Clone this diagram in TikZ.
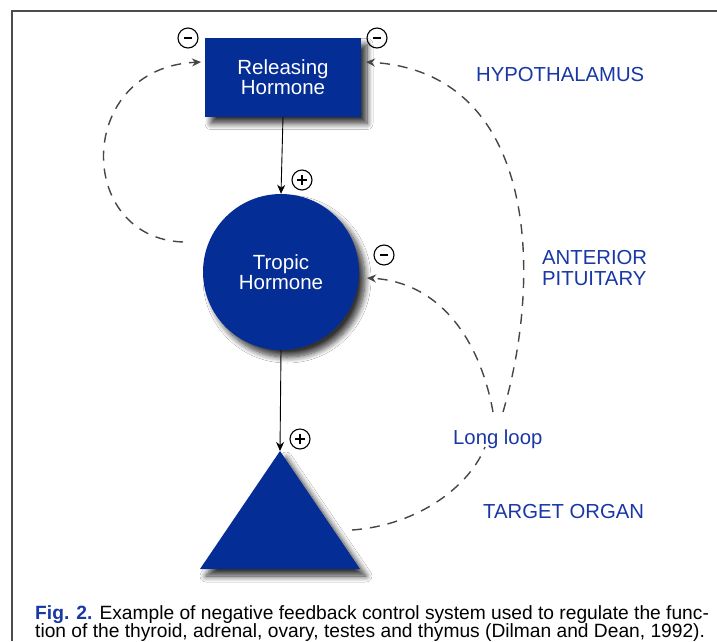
\documentclass[tikz,border=0pt]{standalone}
\usepackage{fontspec}
\setmainfont{Liberation Sans}
\usetikzlibrary{shadows.blur,arrows.meta}
\definecolor{dblue}{RGB}{5,45,150}
\definecolor{lblue}{RGB}{25,55,165}
\definecolor{dashgray}{RGB}{70,70,70}
\tikzset{
  shadowed/.style={blur shadow={shadow xshift=6pt,shadow yshift=-7pt,shadow blur steps=10,shadow blur radius=6pt,shadow opacity=80}},
  shapefill/.style={fill=dblue,draw=none,shadowed},
  lbl/.style={text=lblue,font=\fontsize{20.3}{21}\selectfont,align=left,inner sep=0},
  intext/.style={text=white,font=\fontsize{20.5}{20}\selectfont,align=center},
  fb/.style={dashgray,line width=1.4pt,dash pattern=on 10pt off 8pt,-{Stealth[length=9pt,width=8pt]}},
  fbplain/.style={dashgray,line width=1.4pt,dash pattern=on 10pt off 8pt},
  solidarrow/.style={black,line width=0.9pt,-{Stealth[length=9pt,width=8pt]}},
  sgn/.style={circle,draw=black,line width=1.1pt,minimum size=20pt,inner sep=0},
  msign/.style={sgn,path picture={\draw[line width=1.3pt] ([xshift=-4pt]path picture bounding box.center) -- ([xshift=4pt]path picture bounding box.center);}},
  psign/.style={sgn,path picture={\draw[line width=1.3pt] ([xshift=-5pt]path picture bounding box.center) -- ([xshift=5pt]path picture bounding box.center) ([yshift=-5pt]path picture bounding box.center) -- ([yshift=5pt]path picture bounding box.center);}},
  captext/.style={anchor=base west,inner sep=0,font=\fontsize{19.2}{18.5}\selectfont}
}
\begin{document}
\begin{tikzpicture}[x=1pt,y=-1pt]
\useasboundingbox (0,0) rectangle (717,641);
\fill[white] (0,0) rectangle (717,641);
% frame
\draw[gray!60!black,line width=2pt] (12,641) -- (12,11) -- (717,11);

% shapes
\node[shapefill,rectangle,minimum width=156pt,minimum height=79pt,intext] (rh) at (283,77) {Releasing\\Hormone};
\node[shapefill,circle,minimum size=156pt,inner sep=0,intext] (th) at (281,272) {Tropic\\Hormone};
\coordinate (toapex) at (280,451);
\coordinate (toright) at (360,569);
\coordinate (toleft) at (200,569);
\fill[dblue,shadowed] (toapex) -- (toright) -- (toleft) -- cycle;

% labels
\node[lbl,anchor=west] (hyp) at (476,75) {HYPOTHALAMUS};
\node[lbl,anchor=west] (ap) at (542,268) {ANTERIOR\\PITUITARY};
\node[lbl,anchor=west] (ll) at (453,439) {Long loop};
\node[lbl,anchor=west] (tg) at (483,511) {TARGET ORGAN};

% signs
\node[msign] (m1) at (188,38) {};
\node[msign] (m2) at (377,38) {};
\node[msign] (m3) at (384,255) {};
\node[psign] (p1) at (302,180) {};
\node[psign] (p2) at (300,439) {};

% coordinates
\coordinate (lstart) at (183,242);
\coordinate (lend) at (201,62);
\coordinate (rend) at (366,62);
\coordinate (rstart) at (503,412);
\coordinate (mstart) at (493,412);
\coordinate (mend) at (367,278);
\coordinate (bstart) at (352,530);
\coordinate (bend) at (485,447);

% solid arrows
\draw[solidarrow] (rh.south) -- (th.north);
\draw[solidarrow] (th.south) -- (toapex);

% feedback loops
\draw[fb] (lstart) .. controls (75,238) and (75,68) .. (lend);
\draw[fb] (rstart) .. controls (542,280) and (540,72) .. (rend);
\draw[fb] (mstart) .. controls (480,340) and (440,282) .. (mend);
\draw[fbplain] (bstart) .. controls (420,525) and (470,485) .. (bend);

% caption
\node[captext] (cap1) at (35,619) {\textcolor{lblue}{\textbf{Fig. 2.}} Example of negative feedback control system used to regulate the func-};
\node[captext] (cap2) at (35,637.5) {tion of the thyroid, adrenal, ovary, testes and thymus (Dilman and Dean, 1992).};
\end{tikzpicture}
\end{document}
